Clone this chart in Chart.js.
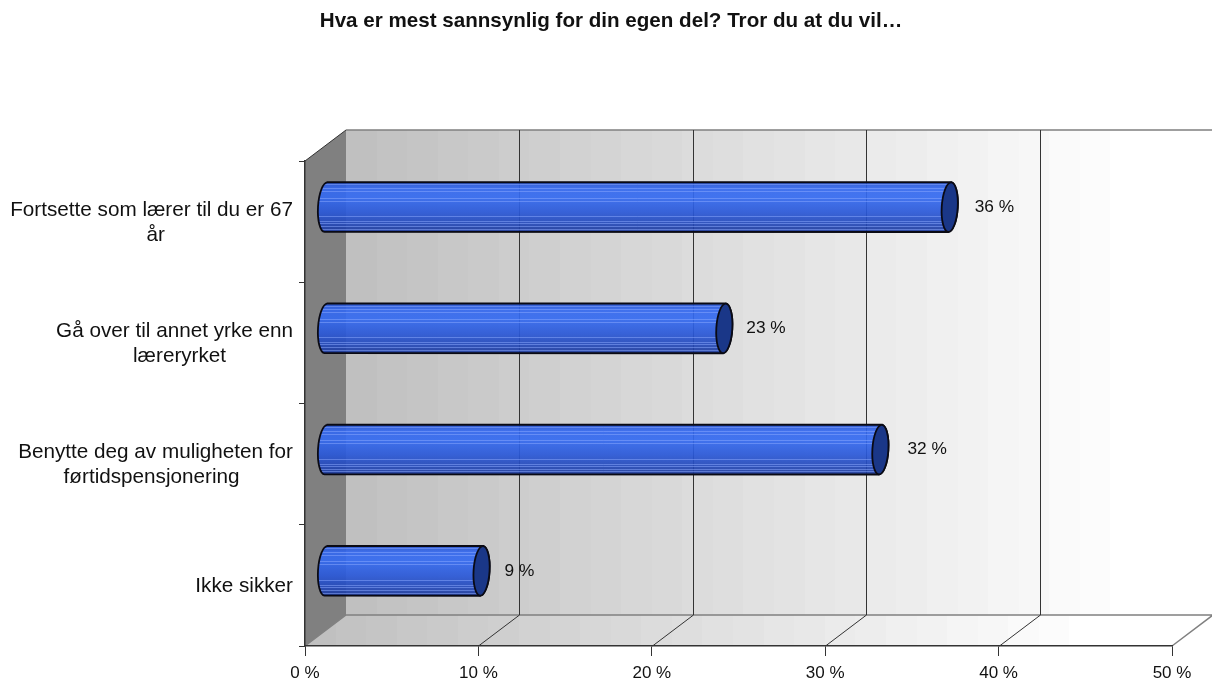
<!DOCTYPE html>
<html lang="en">

<head>
    <meta charset="UTF-8">
    <script src="https://cdn.jsdelivr.net/npm/chart.js"></script>
    <title>Hva er mest sannsynlig</title>
    <style>
        html, body { margin: 0; padding: 0; background: #fff; overflow: hidden; }
        canvas { display: block; }
    </style>
</head>

<body>
    <canvas id="myChart" width="1212" height="679"></canvas>
    <script>

        const chartTitle = 'Hva er mest sannsynlig for din egen del? Tror du at du vil…';

        const categories = [
            ['Fortsette som lærer til du er 67', 'år'],
            ['Gå over til annet yrke enn', 'læreryrket'],
            ['Benytte deg av muligheten for', 'førtidspensjonering'],
            ['Ikke sikker'],
        ];
        const percentValues = [36, 23, 32, 9];
        const percentTicks = [0, 10, 20, 30, 40, 50];

        // how far the 3d back wall is pushed from the front plane
        const depthX = 41;
        const depthY = 31;
        const fontName = '"Liberation Sans", Arial, sans-serif';
        const labelGaps = [25, 22, 27, 23];
        const secondLineShift = [4, 5, -4, 0];

        function wallGradient(ctx, x0, x1) {
            // stepped grey to white, like the banding in the original
            const g = ctx.createLinearGradient(x0, 0, x1, 0);
            const steps = 26;
            for (let i = 0; i < steps; i++) {
                const v = Math.round(192 + 63 * i / (steps - 1));
                const c = `rgb(${v},${v},${v})`;
                g.addColorStop(i / steps, c);
                g.addColorStop((i + 1) / steps, c);
            }
            return g;
        }

        const walls = {
            id: 'walls',
            beforeDraw: (chart) => {
                const ctx = chart.ctx;
                const { left, right, top, bottom } = chart.chartArea;
                const xs = chart.scales.x;
                ctx.save();
                ctx.fillStyle = '#fff';
                ctx.fillRect(0, 0, chart.width, chart.height);

                // back wall
                ctx.fillStyle = wallGradient(ctx, left + depthX, left + depthX + 795);
                ctx.fillRect(left + depthX, top - depthY, right - left, bottom - top);

                // floor
                ctx.fillStyle = wallGradient(ctx, left, left + 795);
                ctx.beginPath();
                ctx.moveTo(left, bottom);
                ctx.lineTo(right, bottom);
                ctx.lineTo(right + depthX, bottom - depthY);
                ctx.lineTo(left + depthX, bottom - depthY);
                ctx.closePath();
                ctx.fill();

                // side wall
                ctx.fillStyle = '#808080';
                ctx.beginPath();
                ctx.moveTo(left, top);
                ctx.lineTo(left + depthX, top - depthY);
                ctx.lineTo(left + depthX, bottom - depthY);
                ctx.lineTo(left, bottom);
                ctx.closePath();
                ctx.fill();

                // grey wall edges
                ctx.strokeStyle = '#808080';
                ctx.lineWidth = 1.5;
                ctx.beginPath();
                ctx.moveTo(left + depthX, top - depthY);
                ctx.lineTo(chart.width, top - depthY);
                ctx.moveTo(left + depthX, bottom - depthY);
                ctx.lineTo(chart.width, bottom - depthY);
                ctx.moveTo(right, bottom);
                ctx.lineTo(right + depthX, bottom - depthY);
                ctx.moveTo(left, bottom);
                ctx.lineTo(left + depthX, bottom - depthY);
                ctx.stroke();

                // grid lines, back wall and floor
                ctx.strokeStyle = '#333';
                ctx.lineWidth = 1;
                ctx.beginPath();
                xs.ticks.forEach((t) => {
                    if (t.value === 0 || t.value === 50) return;
                    const px = Math.round(xs.getPixelForValue(t.value)) + 0.5;
                    ctx.moveTo(px, bottom);
                    ctx.lineTo(px + depthX, bottom - depthY);
                    ctx.lineTo(px + depthX, top - depthY);
                });
                ctx.moveTo(left, top);
                ctx.lineTo(left + depthX, top - depthY);
                ctx.stroke();
                ctx.restore();
            },
        };

        // light streaks across the tube, as fractions of its height
        const streaks = [0.04, 0.12, 0.18, 0.31, 0.37, 0.68, 0.78, 0.82, 0.88, 0.94];

        function tubePath(ctx, x0, x1, cy, ry, rx, tilt) {
            const lean = ry * Math.sin(tilt);
            ctx.beginPath();
            ctx.moveTo(x1 + lean, cy - ry);
            ctx.lineTo(x0 + lean, cy - ry);
            ctx.ellipse(x0, cy, rx, ry, tilt, -Math.PI / 2, Math.PI / 2, true);
            ctx.lineTo(x1 - lean, cy + ry);
            ctx.ellipse(x1, cy, rx, ry, tilt, Math.PI / 2, -Math.PI / 2, true);
            ctx.closePath();
        }

        const tubes = {
            id: 'tubes',
            afterDatasetsDraw: (chart) => {
                const ctx = chart.ctx;
                const bars = chart.getDatasetMeta(0).data;
                const rx = 8;
                const tilt = 0.06;
                ctx.save();
                bars.forEach((bar, i) => {
                    const x0 = bar.base + depthX / 2;
                    const x1 = bar.x + depthX / 2;
                    const cy = bar.y - depthY / 2 + 1;
                    const ry = bar.height / 2;
                    const top = cy - ry;
                    const h = ry * 2;

                    const g = ctx.createLinearGradient(0, top, 0, top + h);
                    g.addColorStop(0, 'rgba(38,82,205,0.92)');
                    g.addColorStop(0.12, 'rgba(52,104,238,0.92)');
                    g.addColorStop(0.3, 'rgba(52,106,240,0.92)');
                    g.addColorStop(0.6, 'rgba(42,88,216,0.92)');
                    g.addColorStop(0.85, 'rgba(36,72,182,0.92)');
                    g.addColorStop(1, 'rgba(28,56,150,0.92)');

                    ctx.save();
                    tubePath(ctx, x0, x1, cy, ry, rx, tilt);
                    ctx.fillStyle = g;
                    ctx.fill();
                    ctx.clip();
                    ctx.strokeStyle = 'rgba(140,170,255,0.5)';
                    ctx.lineWidth = 1;
                    ctx.beginPath();
                    streaks.forEach((s) => {
                        const y = Math.round(top + h * s) + 0.5;
                        ctx.moveTo(x0 - rx, y);
                        ctx.lineTo(x1 + rx, y);
                    });
                    ctx.stroke();
                    ctx.restore();

                    ctx.strokeStyle = '#0a0a14';
                    ctx.lineWidth = 1.8;
                    tubePath(ctx, x0, x1, cy, ry, rx, tilt);
                    ctx.stroke();

                    ctx.fillStyle = '#1a3788';
                    ctx.beginPath();
                    ctx.ellipse(x1, cy, rx, ry, tilt, 0, Math.PI * 2);
                    ctx.fill();
                    ctx.stroke();

                    // value label
                    ctx.fillStyle = '#111';
                    ctx.font = '17.3px ' + fontName;
                    ctx.textAlign = 'left';
                    ctx.textBaseline = 'middle';
                    ctx.fillText(percentValues[i] + ' %', x1 + labelGaps[i], cy);
                });
                ctx.restore();
            },
            afterDraw: (chart) => {
                const ctx = chart.ctx;
                const ys = chart.scales.y;
                ctx.save();
                ctx.fillStyle = '#111';

                ctx.font = 'bold 20.6px ' + fontName;
                ctx.textAlign = 'center';
                ctx.textBaseline = 'alphabetic';
                ctx.fillText(chartTitle, 611, 27);

                // category labels: block sits right, lines centred inside it
                ctx.textBaseline = 'middle';
                ctx.font = '20.7px ' + fontName;
                categories.forEach((lines, i) => {
                    const widest = Math.max(...lines.map((l) => ctx.measureText(l).width));
                    const cx = ys.right - 12 - widest / 2;
                    const cy = ys.getPixelForTick(i) + 1;
                    lines.forEach((line, k) => {
                        const shift = k > 0 ? secondLineShift[i] : 0;
                        ctx.fillText(line, cx + shift, cy + (k - (lines.length - 1) / 2) * 25);
                    });
                });
                ctx.restore();
            },
        };

        const config = {
            type: 'bar',
            data: {
                labels: categories,
                datasets: [{
                    data: percentValues,
                    backgroundColor: 'rgba(0,0,0,0)',
                    borderWidth: 0,
                    categoryPercentage: 1,
                    barPercentage: 0.41,
                }],
            },
            options: {
                indexAxis: 'y',
                responsive: false,
                animation: false,
                layout: { padding: { left: 305, top: 161, right: 40, bottom: 0 } },
                plugins: { legend: { display: false }, tooltip: { enabled: false } },
                scales: {
                    x: {
                        min: percentTicks[0],
                        max: percentTicks[percentTicks.length - 1],
                        afterFit: (s) => { s.height = 33; },
                        afterBuildTicks: (s) => { s.ticks = percentTicks.map((v) => ({ value: v })); },
                        border: { color: '#333', width: 1.5 },
                        grid: { drawOnChartArea: false, drawTicks: true, tickLength: 10, color: '#333' },
                        ticks: {
                            padding: 7,
                            maxRotation: 0,
                            color: '#111',
                            font: { family: fontName, size: 17 },
                            callback: (v) => v + ' %',
                        },
                    },
                    y: {
                        afterFit: (s) => { s.width = 0; },
                        border: { color: '#333', width: 1.5 },
                        grid: { drawOnChartArea: false, drawTicks: true, tickLength: 6, color: '#333', offset: true },
                        ticks: { display: false },
                    },
                },
            },
            plugins: [walls, tubes],
        };

        const myChart = new Chart(document.getElementById('myChart'), config);
    </script>
</body>

</html>
